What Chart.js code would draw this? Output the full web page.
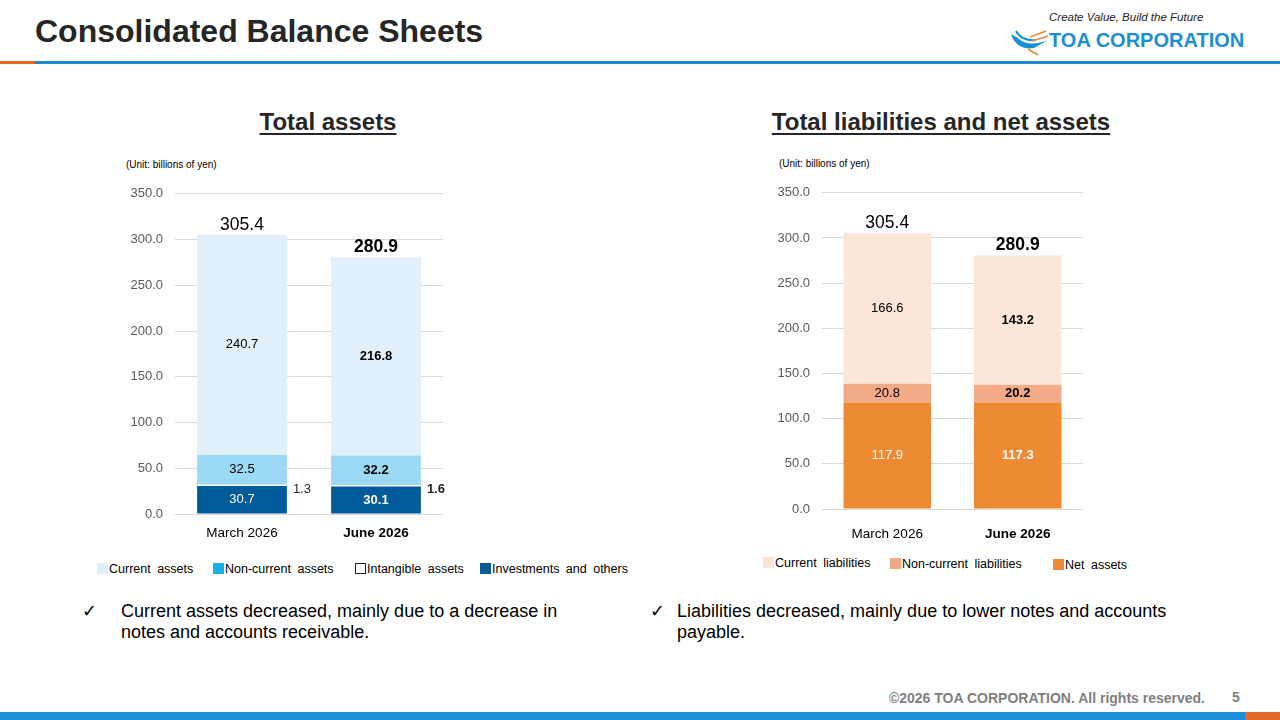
<!DOCTYPE html>
<html>
<head>
<meta charset="utf-8">
<script src="https://cdn.jsdelivr.net/npm/chart.js@4.4.1/dist/chart.umd.min.js"></script>
<style>
  body { margin: 0; width: 1280px; height: 720px; position: relative; overflow: hidden; background: #fff;
         font-family: "Liberation Sans", Arial, sans-serif; }
  .abs { position: absolute; white-space: nowrap; }
  .title { left: 35px; top: 13px; font-size: 32px; font-weight: bold; color: #262626; }
  .slogan { left: 1049px; top: 11px; font-size: 11.5px; font-style: italic; color: #222; }
  .corp { left: 1049px; top: 29px; font-size: 20px; font-weight: bold; color: #1a8fd6; }
  .hline { top: 61px; height: 3px; }
  .chart-title { top: 108px; font-size: 24px; font-weight: bold; color: #262626; text-decoration: underline; text-underline-offset: 3px; transform: translateX(-50%); }
  .unit { font-size: 10px; color: #000; }
  .leg { font-size: 12.5px; color: #000; word-spacing: 3px; }
  .leg i { display: inline-block; width: 11px; height: 11px; vertical-align: -1px; margin-right: 1px; }
  .bullet { font-size: 18px; color: #000; line-height: 21px; }
  .foot { top: 690px; font-size: 14px; font-weight: bold; color: #7f7f7f; }
</style>
</head>
<body>
<div class="abs title">Consolidated Balance Sheets</div>
<div class="abs slogan">Create Value, Build the Future</div>
<svg class="abs" style="left:1008px;top:28px" width="42" height="28" viewBox="0 0 42 28">
  <path d="M3 6 C6 16, 14 22, 26 20 L40 12 C30 16, 18 18, 10 10 Z" fill="#1a8fd6"/>
  <path d="M8 3 C12 10, 18 13, 28 12" stroke="#1a8fd6" stroke-width="2" fill="none"/>
  <path d="M22 9 L38 3 M24 13 L40 8 M20 21 L30 27" stroke="#ee8a33" stroke-width="1.6" fill="none"/>
</svg>
<div class="abs corp">TOA CORPORATION</div>
<div class="abs hline" style="left:0;width:35px;background:#e2692a"></div>
<div class="abs hline" style="left:35px;width:1245px;background:#1e88c8"></div>

<div class="abs chart-title" style="left:328px">Total assets</div>
<div class="abs chart-title" style="left:941px">Total liabilities and net assets</div>
<div class="abs unit" style="left:126px;top:159px">(Unit: billions of yen)</div>
<div class="abs unit" style="left:779px;top:158px">(Unit: billions of yen)</div>

<canvas id="assets_graph" class="abs" style="left:100px;top:174px" width="360" height="372"></canvas>
<canvas id="liabilities_graph" class="abs" style="left:740px;top:173px" width="360" height="382"></canvas>

<div class="abs leg" style="left:97px;top:562px"><i style="background:#deeffa"></i>Current assets</div>
<div class="abs leg" style="left:213px;top:562px"><i style="background:#1ab0ea"></i>Non-current assets</div>
<div class="abs leg" style="left:355px;top:562px"><i style="background:#fff;border:1px solid #222;width:9px;height:9px"></i>Intangible assets</div>
<div class="abs leg" style="left:480px;top:562px"><i style="background:#0a5a99"></i>Investments and others</div>

<div class="abs leg" style="left:763px;top:556px"><i style="background:#fce5d6"></i>Current liabilities</div>
<div class="abs leg" style="left:890px;top:557px"><i style="background:#f0a985"></i>Non-current liabilities</div>
<div class="abs leg" style="left:1053px;top:558px"><i style="background:#ee8a33"></i>Net assets</div>

<div class="abs bullet" style="left:82px;top:601px">✓</div>
<div class="abs bullet" style="left:121px;top:601px">Current assets decreased, mainly due to a decrease in<br>notes and accounts receivable.</div>
<div class="abs bullet" style="left:650px;top:601px">✓</div>
<div class="abs bullet" style="left:677px;top:601px">Liabilities decreased, mainly due to lower notes and accounts<br>payable.</div>

<div class="abs foot" style="right:75px">©2026 TOA CORPORATION. All rights reserved.</div>
<div class="abs foot" style="left:1232px;top:689px;font-size:14px">5</div>
<div class="abs" style="left:0;top:712px;width:1245px;height:8px;background:#1c8fd8"></div>
<div class="abs" style="left:1245px;top:712px;width:35px;height:8px;background:#e2692a"></div>

<script>
// データ
const periods = ['March 2026', 'June 2026'];
const yTicks = [0, 50, 100, 150, 200, 250, 300, 350];

const investments = [30.7, 30.1];
const intangible = [1.3, 1.6];
const nonCurrentAssets = [32.5, 32.2];
const currentAssets = [240.7, 216.8];
const totalAssets = [305.4, 280.9];

const netAssets = [117.9, 117.3];
const nonCurrentLiabilities = [20.8, 20.2];
const currentLiabilities = [166.6, 143.2];
const totalLiabilities = [305.4, 280.9];

Chart.defaults.font.family = '"Liberation Sans", Arial, sans-serif';

// 棒の中に数値、上に合計
const valueLabels = {
    id: 'valueLabels',
    afterDatasetsDraw(chart, args, opts) {
        const ctx = chart.ctx;
        ctx.save();
        ctx.textBaseline = 'middle';
        chart.data.datasets.forEach(function (ds, i) {
            const meta = chart.getDatasetMeta(i);
            meta.data.forEach(function (bar, j) {
                const weight = j === 1 ? 'bold ' : '';
                ctx.font = weight + '13px "Liberation Sans", Arial, sans-serif';
                ctx.fillStyle = ds.labelColor;
                const text = ds.data[j].toFixed(1);
                const mid = (bar.y + bar.base) / 2;
                if (ds.outside) {
                    ctx.textAlign = 'left';
                    ctx.fillText(text, bar.x + bar.width / 2 + 6, mid + 4);
                } else {
                    ctx.textAlign = 'center';
                    ctx.fillText(text, bar.x, mid);
                }
            });
        });
        const top = chart.getDatasetMeta(chart.data.datasets.length - 1);
        top.data.forEach(function (bar, j) {
            const weight = j === 1 ? 'bold ' : '';
            ctx.font = weight + '17.5px "Liberation Sans", Arial, sans-serif';
            ctx.fillStyle = '#000';
            ctx.textAlign = 'center';
            ctx.textBaseline = 'bottom';
            ctx.fillText(opts.totals[j].toFixed(1), bar.x, bar.y - 1);
        });
        ctx.restore();
    }
};

function makeOptions(totals, yWidth, xHeight, xPad, topPad) {
    return {
        responsive: false,
        animation: false,
        layout: { padding: { left: 0, right: 17, top: topPad, bottom: 0 } },
        plugins: {
            legend: { display: false },
            tooltip: { enabled: false },
            valueLabels: { totals: totals }
        },
        scales: {
            x: {
                stacked: true,
                grid: { display: false },
                border: { display: false },
                ticks: {
                    color: '#000',
                    padding: xPad,
                    font: function (c) {
                        return { size: 13.5, weight: c.index === 1 ? 'bold' : 'normal' };
                    }
                },
                afterFit: function (s) { s.height = xHeight; }
            },
            y: {
                stacked: true,
                min: yTicks[0],
                max: yTicks[yTicks.length - 1],
                afterBuildTicks: function (s) { s.ticks = yTicks.map(function (v) { return { value: v }; }); },
                grid: { color: '#d9d9d9', drawTicks: false },
                border: { display: false },
                ticks: {
                    color: '#595959',
                    padding: 12,
                    font: { size: 13 },
                    callback: function (v) { return v.toFixed(1); }
                },
                afterFit: function (s) { s.width = yWidth; }
            }
        }
    };
}

const barStyle = { barPercentage: 0.67, categoryPercentage: 1.0, borderWidth: 0 };

new Chart(document.getElementById('assets_graph'), {
    type: 'bar',
    data: {
        labels: periods,
        datasets: [
            Object.assign({ label: 'Investments and others', data: investments, backgroundColor: '#005b9a', labelColor: '#fff' }, barStyle),
            Object.assign({ label: 'Intangible assets', data: intangible, backgroundColor: '#ffffff', labelColor: '#262626', outside: true }, barStyle),
            Object.assign({ label: 'Non-current assets', data: nonCurrentAssets, backgroundColor: '#9bd9f4', labelColor: '#000' }, barStyle),
            Object.assign({ label: 'Current assets', data: currentAssets, backgroundColor: '#e1f0fa', labelColor: '#000' }, barStyle)
        ]
    },
    options: makeOptions(totalAssets, 75, 32, 3, 14),
    plugins: [valueLabels]
});

new Chart(document.getElementById('liabilities_graph'), {
    type: 'bar',
    data: {
        labels: periods,
        datasets: [
            Object.assign({ label: 'Net assets', data: netAssets, backgroundColor: '#ee8a33', labelColor: '#fff' }, barStyle),
            Object.assign({ label: 'Non-current liabilities', data: nonCurrentLiabilities, backgroundColor: '#f2ab86', labelColor: '#000' }, barStyle),
            Object.assign({ label: 'Current liabilities', data: currentLiabilities, backgroundColor: '#fce6d9', labelColor: '#000' }, barStyle)
        ]
    },
    options: makeOptions(totalLiabilities, 82, 46, 9, 13),
    plugins: [valueLabels]
});
</script>
</body>
</html>
